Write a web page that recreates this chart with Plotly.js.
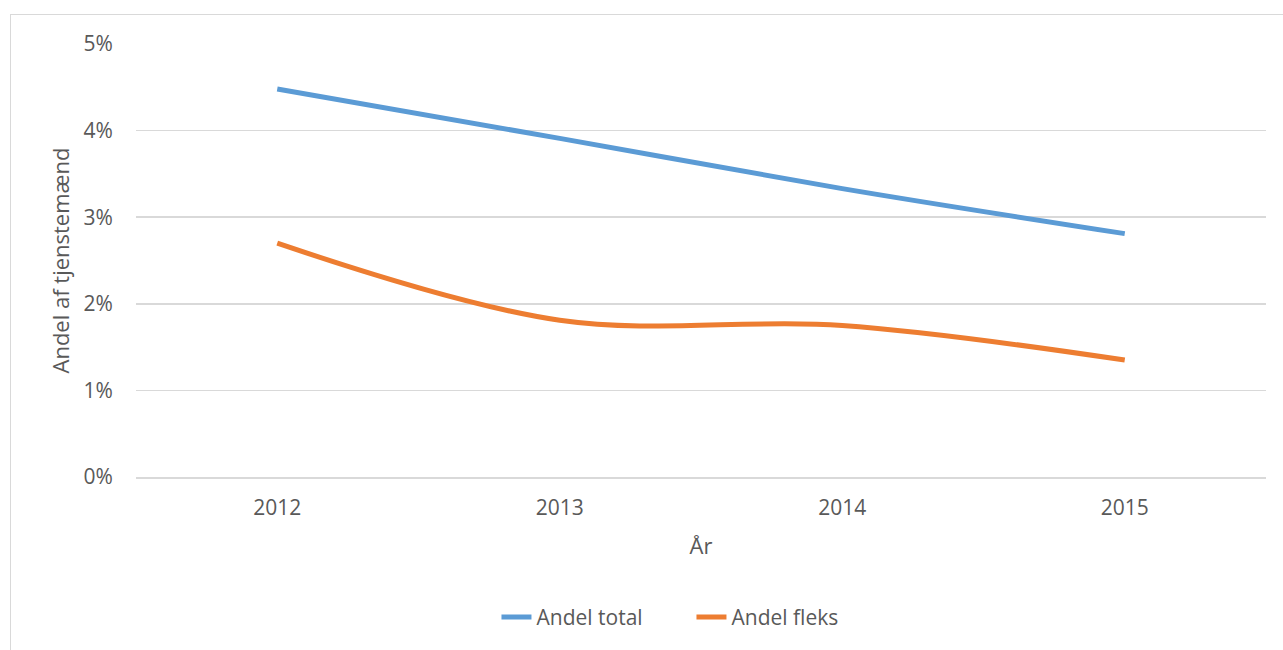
<!DOCTYPE html>
<html>
<head>
<meta charset="utf-8">
<script src="https://cdn.plot.ly/plotly-3.0.1.min.js"></script>
<style>
  html, body { margin: 0; padding: 0; background: #fff; overflow: hidden; }
  #frame { position: absolute; left: 10px; top: 14px; width: 1300px; height: 700px; border: 1.5px solid #D9D9D9; box-sizing: border-box; }
  #chart { position: absolute; left: 0; top: 0; width: 1283px; height: 650px; }
</style>
</head>
<body>
<div id="frame"></div>
<div id="chart"></div>
<script>
const years = ['2012', '2013', '2014', '2015'];
const andelTotal = [0.0448, 0.0391, 0.0333, 0.0281];
const andelFleks = [0.0270, 0.0181, 0.0175, 0.0135];
const yTickVals = [0, 0.01, 0.02, 0.03, 0.04, 0.05];

const textColor = '#595959';
const fontFam = '"Open Sans", "Liberation Sans", sans-serif';

const traces = [
  { x: years, y: andelTotal, name: 'Andel total', type: 'scatter', mode: 'lines',
    line: { color: '#5B9BD5', width: 5, shape: 'spline', smoothing: 1 } },
  { x: years, y: andelFleks, name: 'Andel fleks', type: 'scatter', mode: 'lines',
    line: { color: '#ED7D31', width: 5, shape: 'spline', smoothing: 1 } }
];

const layout = {
  width: 1283, height: 650,
  paper_bgcolor: 'rgba(0,0,0,0)', plot_bgcolor: 'rgba(0,0,0,0)',
  margin: { l: 136, r: 17, t: 43.5, b: 172.5, autoexpand: false },
  font: { family: fontFam, color: textColor, size: 21 },
  showlegend: true,
  legend: { orientation: 'h', x: 0.319, xanchor: 'left', y: -0.324, yanchor: 'middle',
            entrywidth: 150, entrywidthmode: 'pixels',
            font: { size: 21, color: textColor, family: fontFam }, itemwidth: 30, traceorder: 'normal' },
  xaxis: {
    type: 'category', range: [-0.5, 3.5], automargin: false,
    showgrid: false, zeroline: false, showline: true, linecolor: '#D9D9D9', linewidth: 1.5,
    ticks: 'outside', ticklen: 11, tickcolor: 'rgba(0,0,0,0)',
    tickfont: { size: 21, color: textColor, family: fontFam },
    title: { text: 'År', font: { size: 22, color: textColor, family: fontFam }, standoff: 19 }
  },
  yaxis: {
    range: [0, 0.05], automargin: false, tickvals: yTickVals, tickformat: '.0%',
    showgrid: true, gridcolor: '#D9D9D9', gridwidth: 1.5, zeroline: false, showline: false,
    ticks: 'outside', ticklen: 18, tickcolor: 'rgba(0,0,0,0)',
    tickfont: { size: 21, color: textColor, family: fontFam },
    title: { text: 'Andel af tjenstemænd', font: { size: 22, color: textColor, family: fontFam }, standoff: 7 }
  }
};

Plotly.newPlot('chart', traces, layout, { staticPlot: true, displayModeBar: false });
</script>
</body>
</html>
